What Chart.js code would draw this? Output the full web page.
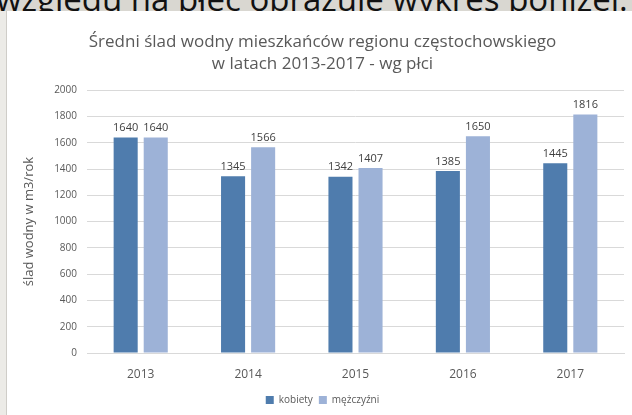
<!DOCTYPE html>
<html lang="pl">
<head>
<meta charset="UTF-8"/>
<title>Ślad wodny wg płci</title>
<script src="https://cdn.jsdelivr.net/npm/chart.js"></script>
<style>
 html,body{margin:0;padding:0;width:632px;height:415px;overflow:hidden;background:#d9d7d1}
 #top{position:absolute;left:-4px;top:-24px;font:33px "Open Sans",sans-serif;color:#111;white-space:nowrap}
 #side{position:absolute;left:0;top:11px;width:6px;height:404px;background:#ecebe7;border-right:1px solid #cfcdc8}
 #box{position:absolute;left:7px;top:11px;width:625px;height:404px;background:#fff}
</style>
</head>
<body>
<div id="top">względu na płeć obrazuje wykres poniżej.</div>
<div id="side"></div>
<div id="box"><canvas id="c" width="625" height="404"></canvas></div>

<script>
const years = ['2013','2014','2015','2016','2017'];
const kobiety = [1640, 1345, 1342, 1385, 1445];
const mezczyzni = [1640, 1566, 1407, 1650, 1816];
const yTicks = [0,200,400,600,800,1000,1200,1400,1600,1800,2000];

// wartości nad słupkami
const labelsOnTop = {
  id:'labelsOnTop',
  afterDatasetsDraw(chart){
    const ctx = chart.ctx;
    ctx.save();
    ctx.font = '11px "Open Sans", sans-serif';
    ctx.fillStyle = '#404040';
    ctx.textAlign = 'center';
    ctx.textBaseline = 'bottom';
    chart.data.datasets.forEach((ds,i)=>{
      chart.getDatasetMeta(i).data.forEach((bar,j)=>{
        ctx.fillText(ds.data[j], bar.x, bar.y - 4);
      });
    });
    ctx.restore();
  }
};

new Chart(document.getElementById('c'),{
  type:'bar',
  data:{
    labels:years,
    datasets:[
      {label:'kobiety', data:kobiety, backgroundColor:'#4f7cad'},
      {label:'mężczyźni', data:mezczyzni, backgroundColor:'#9db2d7'}
    ]
  },
  options:{
    responsive:false,
    animation:false,
    datasets:{bar:{categoryPercentage:0.56, barPercentage:0.8}},
    layout:{padding:{left:14,right:8,top:20,bottom:0}},
    plugins:{
      title:{display:true,
        text:['Średni ślad wodny mieszkańców regionu częstochowskiego','w latach 2013-2017 - wg płci'],
        color:'#595959', font:{family:'"Open Sans", sans-serif', size:17, weight:'normal', lineHeight:1.3},
        padding:{top:0,bottom:15}},
      legend:{position:'bottom',
        labels:{boxWidth:8, boxHeight:8, color:'#595959', padding:6,
          font:{family:'"Open Sans", sans-serif', size:10}}},
      tooltip:{enabled:false}
    },
    scales:{
      x:{grid:{display:false}, border:{color:'#d9d9d9'},
        afterFit(s){ s.height = 36; },
        ticks:{color:'#595959', font:{family:'"Open Sans", sans-serif', size:12}, padding:6}},
      y:{min:0, max:2000,
        afterBuildTicks(s){ s.ticks = yTicks.map(v=>({value:v})); },
        afterFit(s){ s.width = 66; },
        grid:{color:'#d9d9d9', drawTicks:false}, border:{display:false},
        ticks:{color:'#595959', font:{family:'"Open Sans", sans-serif', size:10}, padding:10,
          callback:v=>String(v)},
        title:{display:true, text:'ślad wodny w m3/rok', color:'#595959',
          font:{family:'"Open Sans", sans-serif', size:13}, padding:{top:0,bottom:4}}}
    }
  },
  plugins:[labelsOnTop]
});
</script>
</body>
</html>
